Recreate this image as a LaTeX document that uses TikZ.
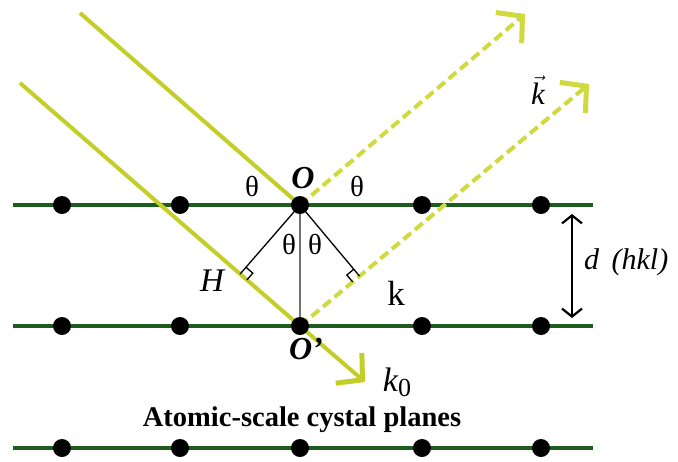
\documentclass[tikz,border=0pt]{standalone}
\usepackage{fontspec}
\setmainfont{Liberation Serif}
\usetikzlibrary{arrows.meta,calc}
\definecolor{plane}{RGB}{28,92,28}
\definecolor{ray}{RGB}{196,206,40}
\definecolor{rayd}{RGB}{208,218,62}
\begin{document}
\begin{tikzpicture}[x=1pt,y=-1pt,
  planeline/.style={line width=4.5pt,draw=plane},
  atom/.style={circle,fill=black,inner sep=0pt,minimum size=18pt},
  inray/.style={line width=4pt,draw=ray},
  outray/.style={line width=4pt,draw=rayd,dash pattern=on 10pt off 5pt,
    -{Straight Barb[length=18pt,width=40pt,line width=5pt]}},
  tip/.style={-{Straight Barb[length=18pt,width=40pt,line width=5pt]}},
  lbl/.style={font=\fontsize{30}{32}\selectfont,inner sep=0pt},
  thlbl/.style={font=\fontsize{29}{31}\selectfont,inner sep=0pt},
  perp/.style={line width=1.3pt,draw=black},
  rmark/.style={line width=1.3pt,draw=black}]
\useasboundingbox (0,0) rectangle (678,461);
% planes
\foreach \r/\y in {a/205,b/326,c/448}{
  \coordinate (L\r) at (13,\y);
  \coordinate (R\r) at (593,\y);
  \draw[planeline] (L\r) -- (R\r);
}
% key points
\coordinate (O) at (300,205);
\coordinate (Op) at (300,326);
\coordinate (S1) at (80,13);
\coordinate (S2) at (20,83);
\coordinate (T1) at (525,14);
\coordinate (T2) at (589,84);
\coordinate (K0) at (365,382);
% feet of perpendiculars
\coordinate (H) at ($(Op)!(O)!(S2)$);
\coordinate (F) at ($(Op)!(O)!(T2)$);
% incident rays
\draw[inray] (S1) -- (O);
\draw[inray] (S2) -- (Op);
\draw[inray,tip] (Op) -- (K0);
% reflected rays
\draw[outray] (O) -- (T1);
\draw[outray] (Op) -- (T2);
% perpendiculars
\draw[line width=1.3pt,draw=black!55] (O) -- (Op);
\draw[perp] (O) -- (H);
\draw[perp] (O) -- (F);
% right-angle marks
\coordinate (H1) at ($(H)!9pt!(O)$);
\coordinate (H3) at ($(H)!9pt!(Op)$);
\draw[rmark] (H1) -- ($(H1)+(H3)-(H)$) -- (H3);
\coordinate (F1) at ($(F)!9pt!(O)$);
\coordinate (F3) at ($(F)!9pt!(Op)$);
\draw[rmark] (F1) -- ($(F1)+(F3)-(F)$) -- (F3);
% atoms
\foreach \r/\y in {a/205,b/326,c/448}{
  \foreach \x [count=\i] in {62,180,300,422,541}{
    \node[atom] (d\r\i) at (\x,\y) {};
  }
}
% d spacing arrow
\coordinate (D1) at (572,214);
\coordinate (D2) at (572,318);
\draw[line width=2.2pt,{Straight Barb[length=8pt,width=20pt,line width=2.2pt]}-{Straight Barb[length=8pt,width=20pt,line width=2.2pt]}] (D1) -- (D2);
\node[lbl,anchor=west] (dl) at (584,262) {\itshape d\hspace{5pt} (hkl)};
% labels
\node[font=\fontsize{32}{34}\selectfont,inner sep=0pt] (lO) at (303,178) {\bfseries\itshape O};
\node[font=\fontsize{32}{34}\selectfont,inner sep=0pt] (lOp) at (306,349) {\bfseries\itshape O’};
\node[thlbl] (th1) at (252,186) {θ};
\node[thlbl] (th2) at (357,186) {θ};
\node[thlbl] (th3) at (289,244) {θ};
\node[thlbl] (th4) at (315,244) {θ};
\node[font=\fontsize{33}{35}\selectfont,inner sep=0pt] (lH) at (212,281) {\itshape H};
\node[font=\fontsize{35}{37}\selectfont,inner sep=0pt] (lk) at (396,293) {k};
\node[font=\fontsize{34}{36}\selectfont,inner sep=0pt] (lk0) at (397,382) {\itshape k\raisebox{-0.3ex}{\upshape\fontsize{26}{28}\selectfont 0}};
\node[font=\fontsize{31}{33}\selectfont,inner sep=0pt] (lkv) at (538,90) {$\vec{\mbox{\itshape k}}$};
\node[font=\fontsize{28.5}{30}\selectfont\bfseries,inner sep=0pt] (title) at (302,420) {Atomic-scale cystal planes};
\end{tikzpicture}
\end{document}
